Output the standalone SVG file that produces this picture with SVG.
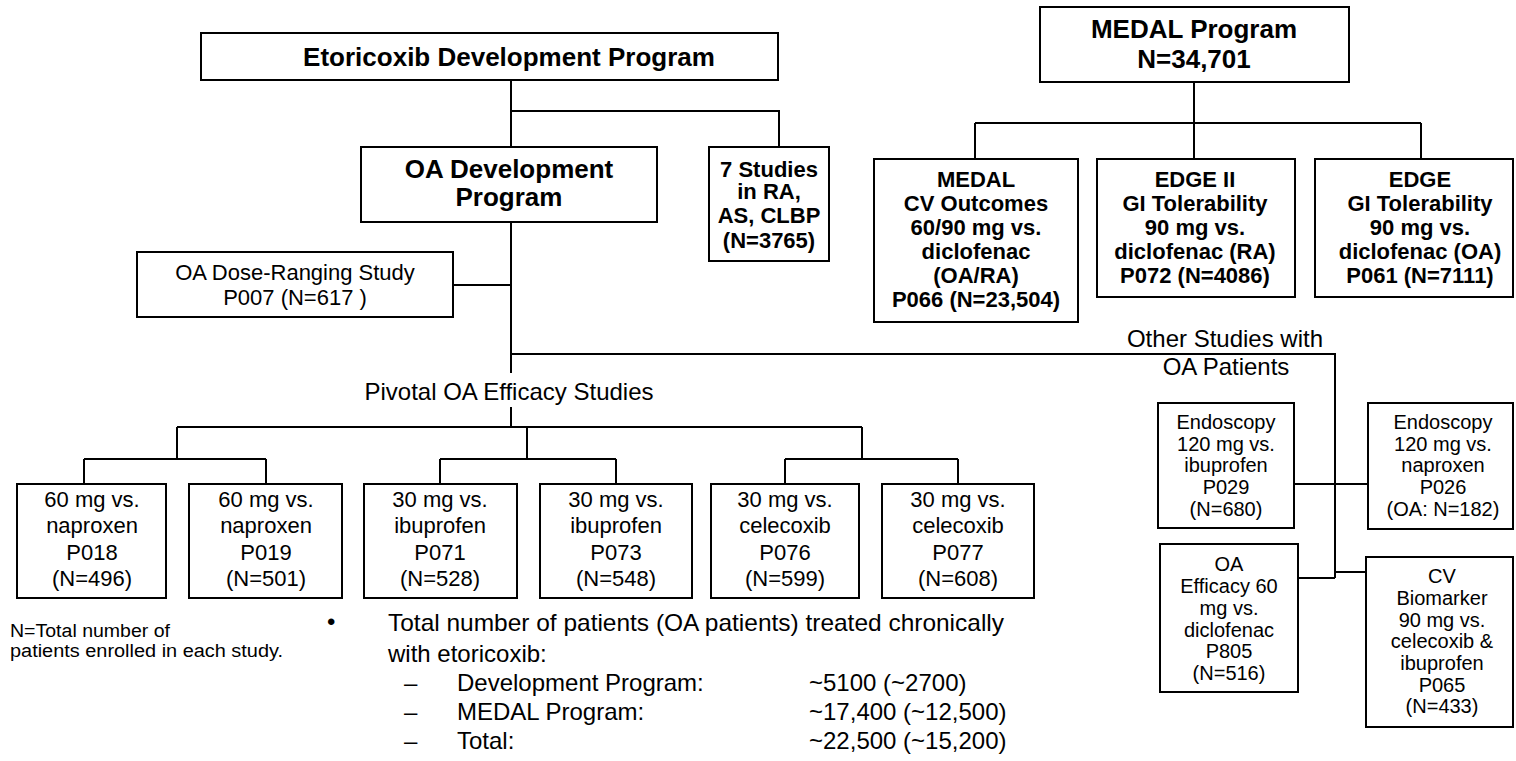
<svg xmlns="http://www.w3.org/2000/svg" width="1516" height="761" viewBox="0 0 1516 761">
<style>
.bx{fill:#fff;stroke:#000;stroke-width:2}
.ln{fill:none;stroke:#000;stroke-width:2}
text{font-family:"Liberation Sans",Arial,sans-serif;fill:#000}
.hb{font-size:26px;font-weight:bold;text-anchor:middle}
.sb{font-size:22px;font-weight:bold;text-anchor:middle}
.t22{font-size:22px;text-anchor:middle}
.t20{font-size:20px;text-anchor:middle}
.t24{font-size:24px}
.c{text-anchor:middle}
.fn{font-size:18px}
</style>
<rect width="1516" height="761" fill="#fff"/>
<g id="connectors">
<path class="ln" d="M511,80V147 M511,111H779V147 M511,222V373 M453,285H511 M511,354H1335V578 M1297,578H1335 M1335,572H1366 M1294,484H1368 M511,407V427 M177,427H862 M177,427V459 M527,427V459 M862,427V459 M84,459H266 M84,459V484 M266,459V484 M440,459H616 M440,459V484 M616,459V484 M785,459H958 M785,459V484 M958,459V484 M1194,82V159 M975,123H1421 M975,123V159 M1421,123V159"/>
</g>
<g id="etoricoxib">
<rect class="bx" x="201" y="33" width="577" height="47"/>
<text class="hb" x="509" y="66">Etoricoxib Development Program</text>
</g>
<g id="oa-dev">
<rect class="bx" x="361" y="147" width="296" height="75"/>
<text class="hb" x="509" y="178">OA Development</text>
<text class="hb" x="509" y="206">Program</text>
</g>
<g id="seven-studies">
<rect class="bx" x="709" y="147" width="120" height="114"/>
<text class="sb" x="769" y="177">7 Studies</text>
<text class="sb" x="769" y="199">in RA,</text>
<text class="sb" x="769" y="223">AS, CLBP</text>
<text class="sb" x="769" y="248">(N=3765)</text>
</g>
<g id="dose-ranging">
<rect class="bx" x="137" y="252" width="316" height="65"/>
<text class="t22" x="295" y="280">OA Dose-Ranging Study</text>
<text class="t22" x="295" y="305">P007 (N=617 )</text>
</g>
<g id="medal-program">
<rect class="bx" x="1040" y="7" width="309" height="75"/>
<text class="hb" x="1194" y="38">MEDAL Program</text>
<text class="hb" x="1194" y="68">N=34,701</text>
</g>
<g id="medal">
<rect class="bx" x="874" y="159" width="204" height="163"/>
<text class="sb" x="976" y="187">MEDAL</text>
<text class="sb" x="976" y="211">CV Outcomes</text>
<text class="sb" x="976" y="235">60/90 mg vs.</text>
<text class="sb" x="976" y="259">diclofenac</text>
<text class="sb" x="976" y="283">(OA/RA)</text>
<text class="sb" x="976" y="307">P066 (N=23,504)</text>
</g>
<g id="edge2">
<rect class="bx" x="1097" y="159" width="198" height="138"/>
<text class="sb" x="1195" y="187">EDGE II</text>
<text class="sb" x="1195" y="211">GI Tolerability</text>
<text class="sb" x="1195" y="235">90 mg vs.</text>
<text class="sb" x="1195" y="259">diclofenac (RA)</text>
<text class="sb" x="1195" y="283">P072 (N=4086)</text>
</g>
<g id="edge">
<rect class="bx" x="1315" y="159" width="198" height="138"/>
<text class="sb" x="1420" y="187">EDGE</text>
<text class="sb" x="1420" y="211">GI Tolerability</text>
<text class="sb" x="1420" y="235">90 mg vs.</text>
<text class="sb" x="1420" y="259">diclofenac (OA)</text>
<text class="sb" x="1420" y="283">P061 (N=7111)</text>
</g>
<g id="labels">
<text class="t24 c" x="509" y="400">Pivotal OA Efficacy Studies</text>
<text class="t24 c" x="1225" y="347">Other Studies with</text>
<text class="t24 c" x="1226" y="375">OA Patients</text>
</g>
<g id="p018">
<rect class="bx" x="17" y="484" width="149" height="114"/>
<text class="t22" x="92" y="507">60 mg vs.</text>
<text class="t22" x="92" y="533">naproxen</text>
<text class="t22" x="92" y="560">P018</text>
<text class="t22" x="92" y="586">(N=496)</text>
</g>
<g id="p019">
<rect class="bx" x="189" y="484" width="153" height="114"/>
<text class="t22" x="266" y="507">60 mg vs.</text>
<text class="t22" x="266" y="533">naproxen</text>
<text class="t22" x="266" y="560">P019</text>
<text class="t22" x="266" y="586">(N=501)</text>
</g>
<g id="p071">
<rect class="bx" x="364" y="484" width="153" height="114"/>
<text class="t22" x="440" y="507">30 mg vs.</text>
<text class="t22" x="440" y="533">ibuprofen</text>
<text class="t22" x="440" y="560">P071</text>
<text class="t22" x="440" y="586">(N=528)</text>
</g>
<g id="p073">
<rect class="bx" x="540" y="484" width="152" height="114"/>
<text class="t22" x="616" y="507">30 mg vs.</text>
<text class="t22" x="616" y="533">ibuprofen</text>
<text class="t22" x="616" y="560">P073</text>
<text class="t22" x="616" y="586">(N=548)</text>
</g>
<g id="p076">
<rect class="bx" x="711" y="484" width="148" height="114"/>
<text class="t22" x="785" y="507">30 mg vs.</text>
<text class="t22" x="785" y="533">celecoxib</text>
<text class="t22" x="785" y="560">P076</text>
<text class="t22" x="785" y="586">(N=599)</text>
</g>
<g id="p077">
<rect class="bx" x="882" y="484" width="152" height="114"/>
<text class="t22" x="958" y="507">30 mg vs.</text>
<text class="t22" x="958" y="533">celecoxib</text>
<text class="t22" x="958" y="560">P077</text>
<text class="t22" x="958" y="586">(N=608)</text>
</g>
<g id="p029">
<rect class="bx" x="1158" y="403" width="136" height="125"/>
<text class="t20" x="1226" y="429">Endoscopy</text>
<text class="t20" x="1226" y="451">120 mg vs.</text>
<text class="t20" x="1226" y="472">ibuprofen</text>
<text class="t20" x="1226" y="494">P029</text>
<text class="t20" x="1226" y="516">(N=680)</text>
</g>
<g id="p026">
<rect class="bx" x="1368" y="403" width="145" height="126"/>
<text class="t20" x="1443" y="429">Endoscopy</text>
<text class="t20" x="1443" y="451">120 mg vs.</text>
<text class="t20" x="1443" y="472">naproxen</text>
<text class="t20" x="1443" y="494">P026</text>
<text class="t20" x="1443" y="516">(OA: N=182)</text>
</g>
<g id="p805">
<rect class="bx" x="1160" y="544" width="138" height="148"/>
<text class="t20" x="1229" y="571">OA</text>
<text class="t20" x="1229" y="593">Efficacy 60</text>
<text class="t20" x="1229" y="615">mg vs.</text>
<text class="t20" x="1229" y="637">diclofenac</text>
<text class="t20" x="1229" y="658">P805</text>
<text class="t20" x="1229" y="680">(N=516)</text>
</g>
<g id="p065">
<rect class="bx" x="1366" y="557" width="147" height="170"/>
<text class="t20" x="1442" y="583">CV</text>
<text class="t20" x="1442" y="605">Biomarker</text>
<text class="t20" x="1442" y="627">90 mg vs.</text>
<text class="t20" x="1442" y="648">celecoxib &amp;</text>
<text class="t20" x="1442" y="670">ibuprofen</text>
<text class="t20" x="1442" y="692">P065</text>
<text class="t20" x="1442" y="713">(N=433)</text>
</g>
<g id="footnote">
<text class="fn" x="10" y="637" textLength="160" lengthAdjust="spacingAndGlyphs">N=Total number of</text>
<text class="fn" x="10" y="657" textLength="273" lengthAdjust="spacingAndGlyphs">patients enrolled in each study.</text>
</g>
<g id="totals">
<text class="t24" x="327" y="630">•</text>
<text class="t24" x="388" y="631" textLength="616" lengthAdjust="spacingAndGlyphs">Total number of patients (OA patients) treated chronically</text>
<text class="t24" x="388" y="662">with etoricoxib:</text>
<text class="t24" x="404" y="691">–</text>
<text class="t24" x="457" y="691">Development Program:</text>
<text class="t24" x="809" y="691">~5100 (~2700)</text>
<text class="t24" x="404" y="720">–</text>
<text class="t24" x="457" y="720">MEDAL Program:</text>
<text class="t24" x="809" y="720">~17,400 (~12,500)</text>
<text class="t24" x="404" y="749">–</text>
<text class="t24" x="457" y="749">Total:</text>
<text class="t24" x="809" y="749">~22,500 (~15,200)</text>
</g>
</svg>
